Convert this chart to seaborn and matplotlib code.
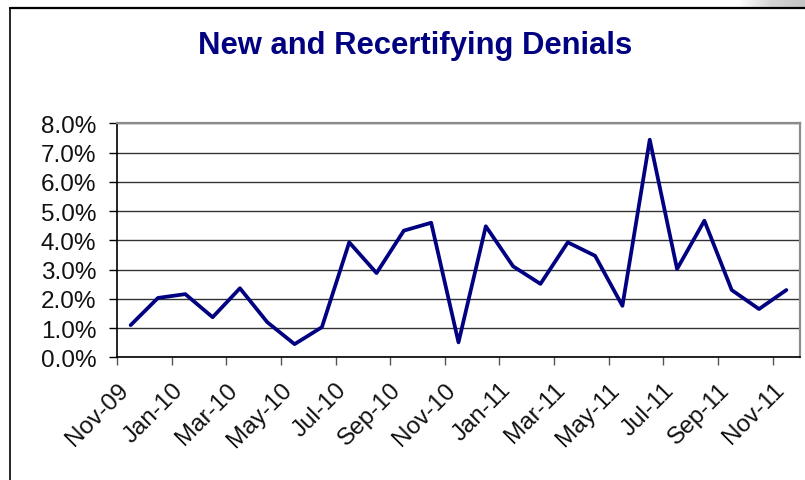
import matplotlib
matplotlib.use("Agg")
import matplotlib.pyplot as plt
from matplotlib.lines import Line2D
from matplotlib.colors import LinearSegmentedColormap
from matplotlib.ticker import FuncFormatter, FixedLocator
import numpy as np
import pandas as pd
import seaborn as sns

# Monthly denial rates (percent), Nov-09 through Nov-11
months = ["Nov-09", "Dec-09", "Jan-10", "Feb-10", "Mar-10", "Apr-10", "May-10",
          "Jun-10", "Jul-10", "Aug-10", "Sep-10", "Oct-10", "Nov-10", "Dec-10",
          "Jan-11", "Feb-11", "Mar-11", "Apr-11", "May-11", "Jun-11", "Jul-11",
          "Aug-11", "Sep-11", "Oct-11", "Nov-11"]
denial_rate = [1.10, 2.03, 2.16, 1.37, 2.36, 1.20, 0.45, 1.03, 3.93, 2.88,
               4.33, 4.60, 0.51, 4.48, 3.11, 2.51, 3.93, 3.47, 1.76, 7.44,
               3.02, 4.67, 2.30, 1.65, 2.30]
tick_labels = months[::2]
y_ticks = [0, 1, 2, 3, 4, 5, 6, 7, 8]

df = pd.DataFrame({"idx": np.arange(len(months)), "month": months, "rate": denial_rate})

sns.set_theme(style="white")
plt.rcParams["font.family"] = ["Liberation Sans", "DejaVu Sans"]

W, H = 805, 481
fig = plt.figure(figsize=(W / 100, H / 100), dpi=100)
fig.patch.set_facecolor("white")

L, R, T, B = 117, 800, 124.3, 358.3
ax = fig.add_axes([L / W, 1 - B / H, (R - L) / W, (B - T) / H])
ax.set_facecolor("white")

sns.lineplot(data=df, x="idx", y="rate", ax=ax, color="#000080",
             linewidth=2.7, legend=False, zorder=3)

ax.set_xlim(-0.5, len(months) - 0.5)
ax.set_ylim(0, 8)
ax.yaxis.set_major_locator(FixedLocator(y_ticks))
ax.yaxis.set_major_formatter(FuncFormatter(lambda v, p: f"{v:.1f}%"))
ax.grid(axis="y", color="#333333", linewidth=1.0)
ax.grid(axis="x", visible=False)
ax.set_axisbelow(True)

ax.set_xticks(np.arange(0, len(months), 2) - 0.5)
ax.set_xticklabels(tick_labels, rotation=45, ha="right", va="top",
                   rotation_mode="anchor")
ax.set_xlabel("")
ax.set_ylabel("")

ax.tick_params(axis="y", which="major", direction="out", length=6, width=1,
               color="black", left=True, labelsize=17.5, pad=9,
               labelcolor="#111111")
ax.tick_params(axis="x", which="major", direction="out", length=6, width=1,
               color="#555555", bottom=True, labelsize=17.5, pad=9,
               labelcolor="#111111")

for side in ("left", "bottom"):
    ax.spines[side].set_color("black")
    ax.spines[side].set_linewidth(1.2)
for side in ("top", "right"):
    ax.spines[side].set_color("#8c8c8c")
    ax.spines[side].set_linewidth(1.6)

fig.text(415 / W, 1 - 46 / H, "New and Recertifying Denials", ha="center",
         va="center", fontsize=22.3, fontweight="bold", color="#000080")

# Outer chart frame (top and left edges)
fig.add_artist(Line2D([10 / W, 1.0], [1 - 9 / H, 1 - 9 / H], color="black",
                      linewidth=1.6, transform=fig.transFigure))
fig.add_artist(Line2D([10 / W, 10 / W], [0, 1 - 9 / H], color="black",
                      linewidth=1.2, transform=fig.transFigure))

# Light grey backdrop strip in the upper-right corner
strip = fig.add_axes([738 / W, 1 - 8 / H, 67 / W, 8 / H])
grey_cmap = LinearSegmentedColormap.from_list("strip", ["#ffffff", "#d4d4d4", "#c4c4c4"])
grad = np.linspace(0, 1, 67)[None, :].repeat(8, axis=0)
strip.imshow(grad, cmap=grey_cmap, vmin=0, vmax=1, aspect="auto")
strip.axis("off")

fig.savefig("out.png", dpi=100, facecolor="white")
